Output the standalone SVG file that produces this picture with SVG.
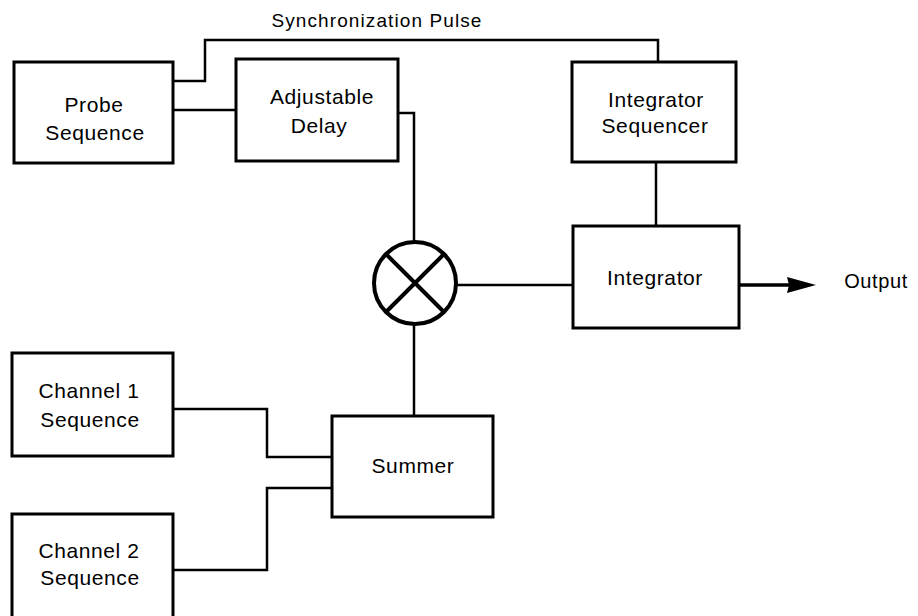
<svg xmlns="http://www.w3.org/2000/svg" width="918" height="616" viewBox="0 0 918 616">
<style>
.box{fill:#fff;stroke:#000;stroke-width:3}
.t{font-family:"Liberation Sans",Arial,sans-serif;font-size:21px;letter-spacing:0.6px;fill:#000;text-anchor:middle}
.c{fill:none;stroke:#000;stroke-width:2.5}
</style>
<rect width="918" height="616" fill="#fff"/>
<g id="connectors">
<polyline class="c" points="174,81 205,81 205,40 658,40 658,62"/>
<line class="c" x1="174" y1="110" x2="236" y2="110"/>
<polyline class="c" points="398,113 414,113 414,242"/>
<line class="c" x1="656" y1="162" x2="656" y2="226"/>
<line class="c" x1="456" y1="285" x2="573" y2="285"/>
<line class="c" x1="414" y1="324" x2="414" y2="416"/>
<polyline class="c" points="173,409 267,409 267,457 332,457"/>
<polyline class="c" points="173,570 267,570 267,488 332,488"/>
<line stroke="#000" stroke-width="3.5" x1="739" y1="285" x2="790" y2="285"/>
<path d="M787,277 L816,285 L787,293 L789,285 Z" fill="#000"/>
<text class="t" x="377" y="27" style="font-size:19px;letter-spacing:1.1px">Synchronization Pulse</text>
<text class="t" x="876" y="288" style="font-size:20px">Output</text>
</g>
<g id="probe">
<rect class="box" x="14" y="62" width="159" height="101"/>
<text class="t" x="94" y="112">Probe</text>
<text class="t" x="95" y="140">Sequence</text>
</g>
<g id="delay">
<rect class="box" x="236" y="59" width="162" height="102"/>
<text class="t" x="322" y="104">Adjustable</text>
<text class="t" x="319" y="133">Delay</text>
</g>
<g id="intseq">
<rect class="box" x="572" y="62" width="164" height="100"/>
<text class="t" x="656" y="107">Integrator</text>
<text class="t" x="655" y="133">Sequencer</text>
</g>
<g id="mixer">
<circle cx="415" cy="283" r="41" fill="#fff" stroke="#000" stroke-width="4"/>
<line x1="386" y1="254" x2="444" y2="312" stroke="#000" stroke-width="4"/>
<line x1="444" y1="254" x2="386" y2="312" stroke="#000" stroke-width="4"/>
</g>
<g id="integrator">
<rect class="box" x="573" y="226" width="166" height="102"/>
<text class="t" x="655" y="285">Integrator</text>
</g>
<g id="ch1">
<rect class="box" x="12" y="353" width="161" height="103"/>
<text class="t" x="89" y="398">Channel 1</text>
<text class="t" x="90" y="427">Sequence</text>
</g>
<g id="ch2">
<rect class="box" x="12" y="514" width="161" height="110"/>
<text class="t" x="89" y="558">Channel 2</text>
<text class="t" x="90" y="585">Sequence</text>
</g>
<g id="summer">
<rect class="box" x="332" y="416" width="161" height="101"/>
<text class="t" x="413" y="473">Summer</text>
</g>
</svg>
